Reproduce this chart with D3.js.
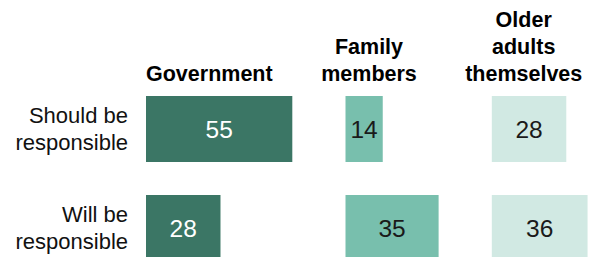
<!DOCTYPE html>
<html>
<head>
<meta charset="utf-8">
<script src="https://cdn.jsdelivr.net/npm/d3@7"></script>
<style>
  html, body { margin: 0; padding: 0; background: #fff; }
  svg { display: block; font-family: "Liberation Sans", Arial, sans-serif; }
</style>
</head>
<body>
<svg id="chart" width="589" height="257"></svg>
<script>
// ---- data ----
const rows = ["Should be responsible", "Will be responsible"];
const rowLines = [["Should be", "responsible"], ["Will be", "responsible"]];
const columns = ["Government", "Family members", "Older adults themselves"];
const columnLines = [["Government"], ["Family", "members"], ["Older", "adults", "themselves"]];
const government = [55, 28];
const family = [14, 35];
const olderAdults = [28, 36];
const series = [government, family, olderAdults];

// ---- styles ----
const fills = ["#3b7665", "#78bfad", "#d1e9e3"];
const textFills = ["#ffffff", "#1a1a1a", "#1a1a1a"];

const svg = d3.select("#chart");

const x = d3.scaleLinear().domain([0, 100]).range([0, 266]);
const y = d3.scaleBand().domain(rows).range([79.5, 277.5]).paddingInner(1/3).paddingOuter(1/6);

const firstCol = 146, colGap = 53.2;
const colStart = [];
let cur = firstCol;
series.forEach((s, i) => { colStart.push(cur); cur += x(d3.max(s)) + colGap; });
const headerCenter = [209, 369, 523.7];

// column headers
columns.forEach((c, i) => {
  const lines = columnLines[i];
  const t = svg.append("text")
    .attr("text-anchor", i === 0 ? "start" : "middle")
    .attr("font-weight", "bold")
    .attr("font-size", 21.5)
    .attr("fill", "#000");
  lines.forEach((ln, j) => {
    t.append("tspan")
      .attr("x", i === 0 ? colStart[0] : headerCenter[i])
      .attr("y", 80.5 - (lines.length - 1 - j) * 27)
      .text(ln);
  });
});

// row labels
rows.forEach((r, i) => {
  const cy = y(r) + y.bandwidth() / 2;
  const t = svg.append("text")
    .attr("text-anchor", "end")
    .attr("font-size", 22)
    .attr("fill", "#111");
  rowLines[i].forEach((ln, j) => {
    t.append("tspan").attr("x", 128).attr("y", cy - 6 + j * 26.7).text(ln);
  });
});

// bars
series.forEach((s, ci) => {
  const g = svg.append("g").attr("transform", `translate(${colStart[ci]},0)`);
  g.selectAll("rect").data(s).join("rect")
    .attr("x", 0)
    .attr("y", (d, i) => y(rows[i]))
    .attr("width", d => x(d))
    .attr("height", y.bandwidth())
    .attr("fill", fills[ci]);
  g.selectAll("text").data(s).join("text")
    .attr("x", d => x(d) / 2)
    .attr("y", (d, i) => y(rows[i]) + y.bandwidth() / 2 + 8.5)
    .attr("text-anchor", "middle")
    .attr("font-size", 24.5)
    .attr("fill", textFills[ci])
    .text(d => d);
});
</script>
</body>
</html>
